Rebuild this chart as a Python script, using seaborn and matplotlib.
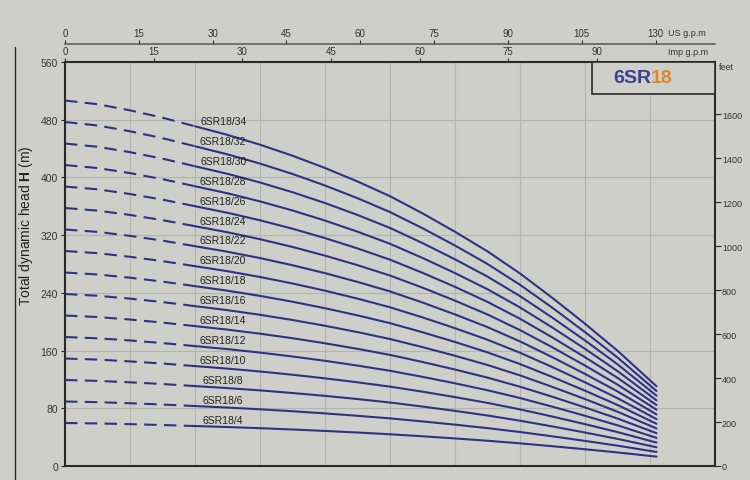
import numpy as np
import pandas as pd
import matplotlib
matplotlib.use("Agg")
import matplotlib.pyplot as plt
from matplotlib.patches import Rectangle
from matplotlib.lines import Line2D
import seaborn as sns

# ---------------- data ----------------
FLOW_M3H = [0, 1.5, 3, 4.5, 6, 7.5, 9, 10.5, 12, 13.5, 15, 16.5, 18, 19.5,
            21, 22.5, 24, 25.5, 27.3]

HEAD_4 = [59.6, 59.0, 58.0, 56.8, 55.4, 54.0, 52.4, 50.6, 48.6, 46.4, 44.0,
          41.2, 38.2, 35.0, 31.4, 27.4, 23.2, 18.8, 13.0]
HEAD_6 = [89.4, 88.5, 87.0, 85.2, 83.1, 81.0, 78.6, 75.9, 72.9, 69.6, 66.0,
          61.8, 57.3, 52.5, 47.1, 41.1, 34.8, 28.2, 19.5]
HEAD_8 = [119.2, 118.0, 116.0, 113.6, 110.8, 108.0, 104.8, 101.2, 97.2, 92.8,
          88.0, 82.4, 76.4, 70.0, 62.8, 54.8, 46.4, 37.6, 26.0]
HEAD_10 = [149.0, 147.5, 145.0, 142.0, 138.5, 135.0, 131.0, 126.5, 121.5,
           116.0, 110.0, 103.0, 95.5, 87.5, 78.5, 68.5, 58.0, 47.0, 32.5]
HEAD_12 = [178.8, 177.0, 174.0, 170.4, 166.2, 162.0, 157.2, 151.8, 145.8,
           139.2, 132.0, 123.6, 114.6, 105.0, 94.2, 82.2, 69.6, 56.4, 39.0]
HEAD_14 = [208.6, 206.5, 203.0, 198.8, 193.9, 189.0, 183.4, 177.1, 170.1,
           162.4, 154.0, 144.2, 133.7, 122.5, 109.9, 95.9, 81.2, 65.8, 45.5]
HEAD_16 = [238.4, 236.0, 232.0, 227.2, 221.6, 216.0, 209.6, 202.4, 194.4,
           185.6, 176.0, 164.8, 152.8, 140.0, 125.6, 109.6, 92.8, 75.2, 52.0]
HEAD_18 = [268.2, 265.5, 261.0, 255.6, 249.3, 243.0, 235.8, 227.7, 218.7,
           208.8, 198.0, 185.4, 171.9, 157.5, 141.3, 123.3, 104.4, 84.6, 58.5]
HEAD_20 = [298.0, 295.0, 290.0, 284.0, 277.0, 270.0, 262.0, 253.0, 243.0,
           232.0, 220.0, 206.0, 191.0, 175.0, 157.0, 137.0, 116.0, 94.0, 65.0]
HEAD_22 = [327.8, 324.5, 319.0, 312.4, 304.7, 297.0, 288.2, 278.3, 267.3,
           255.2, 242.0, 226.6, 210.1, 192.5, 172.7, 150.7, 127.6, 103.4, 71.5]
HEAD_24 = [357.6, 354.0, 348.0, 340.8, 332.4, 324.0, 314.4, 303.6, 291.6,
           278.4, 264.0, 247.2, 229.2, 210.0, 188.4, 164.4, 139.2, 112.8, 78.0]
HEAD_26 = [387.4, 383.5, 377.0, 369.2, 360.1, 351.0, 340.6, 328.9, 315.9,
           301.6, 286.0, 267.8, 248.3, 227.5, 204.1, 178.1, 150.8, 122.2, 84.5]
HEAD_28 = [417.2, 413.0, 406.0, 397.6, 387.8, 378.0, 366.8, 354.2, 340.2,
           324.8, 308.0, 288.4, 267.4, 245.0, 219.8, 191.8, 162.4, 131.6, 91.0]
HEAD_30 = [447.0, 442.5, 435.0, 426.0, 415.5, 405.0, 393.0, 379.5, 364.5,
           348.0, 330.0, 309.0, 286.5, 262.5, 235.5, 205.5, 174.0, 141.0, 97.5]
HEAD_32 = [476.8, 472.0, 464.0, 454.4, 443.2, 432.0, 419.2, 404.8, 388.8,
           371.2, 352.0, 329.6, 305.6, 280.0, 251.2, 219.2, 185.6, 150.4, 104.0]
HEAD_34 = [506.6, 501.5, 493.0, 482.8, 470.9, 459.0, 445.4, 430.1, 413.1,
           394.4, 374.0, 350.2, 324.7, 297.5, 266.9, 232.9, 197.2, 159.8, 110.5]

MODELS = ["6SR18/4", "6SR18/6", "6SR18/8", "6SR18/10", "6SR18/12", "6SR18/14",
          "6SR18/16", "6SR18/18", "6SR18/20", "6SR18/22", "6SR18/24", "6SR18/26",
          "6SR18/28", "6SR18/30", "6SR18/32", "6SR18/34"]
HEADS = [HEAD_4, HEAD_6, HEAD_8, HEAD_10, HEAD_12, HEAD_14, HEAD_16, HEAD_18,
         HEAD_20, HEAD_22, HEAD_24, HEAD_26, HEAD_28, HEAD_30, HEAD_32, HEAD_34]

DASHED_UNTIL = 6          # m3/h, curve drawn dashed below this flow
FLOW_GRID = [0, 3, 6, 9, 12, 15, 18, 21, 24, 27, 30]
Y_TICKS_M = [0, 80, 160, 240, 320, 400, 480, 560]
FEET_TICKS = [0, 200, 400, 600, 800, 1000, 1200, 1400, 1600]
IMP_GPM_TICKS = [0, 15, 30, 45, 60, 75, 90]
US_GPM_TICKS = [0, 15, 30, 45, 60, 75, 90, 105, 120]
US_GPM_LABELS = ["0", "15", "30", "45", "60", "75", "90", "105", "130"]

# ---------------- style ----------------
BG = "#cfcfca"
GRID = "#b4b4af"
CURVE = "#2d3384"
NAVY = "#3b3f8f"
ORANGE = "#e0862a"
INK = "#2a2a2a"

sns.set_theme(style="white")
plt.rcParams["font.family"] = ["Liberation Sans", "DejaVu Sans"]
plt.rcParams["mathtext.fontset"] = "custom"
plt.rcParams["mathtext.rm"] = "Liberation Sans"
plt.rcParams["mathtext.bf"] = "Liberation Sans:bold"

rows = []
for name, heads in zip(MODELS, HEADS):
    for q, h in zip(FLOW_M3H, heads):
        rows.append({"model": name, "flow": q, "head": h})
df = pd.DataFrame(rows)

fig = plt.figure(figsize=(7.5, 4.81), dpi=100, facecolor=BG)
ax = fig.add_axes([65 / 750, 14 / 481, 650 / 750, 404 / 481], facecolor=BG)

for name in MODELS:
    sub = df[df["model"] == name]
    dash = sub[sub["flow"] <= DASHED_UNTIL]
    solid = sub[sub["flow"] >= DASHED_UNTIL]
    sns.lineplot(data=dash, x="flow", y="head", ax=ax, color=CURVE, lw=1.5,
                 linestyle=(0, (6, 3.5)), estimator=None)
    sns.lineplot(data=solid, x="flow", y="head", ax=ax, color=CURVE, lw=1.5,
                 estimator=None)
    h6 = float(sub[sub["flow"] == DASHED_UNTIL]["head"].iloc[0])
    ax.annotate(name, xy=(7.3, h6), xytext=(0, 0.5), textcoords="offset points",
                ha="center", va="bottom", fontsize=7.5, color="#222222")

ax.set_xlim(0, 30)
ax.set_ylim(0, 560)
ax.set_xticks(FLOW_GRID)
ax.set_yticks(Y_TICKS_M)
ax.set_xlabel("")
ax.set_ylabel("")
ax.grid(True, color=GRID, lw=0.8)
ax.set_axisbelow(True)
ax.tick_params(axis="x", bottom=False, labelbottom=False, length=0)
ax.tick_params(axis="y", left=True, direction="out", length=3, width=0.8,
               labelsize=7.5, labelcolor="#333333", color=INK, pad=2)
for s in ax.spines.values():
    s.set_color(INK)
    s.set_linewidth(1.5)
    s.set_visible(True)

# Imp gpm on the top spine
M3H_PER_IMP = 0.272765
M3H_PER_US = 0.227125
imp_ax = ax.secondary_xaxis("top", functions=(lambda q: q / M3H_PER_IMP,
                                              lambda g: g * M3H_PER_IMP))
imp_ax.set_xticks(IMP_GPM_TICKS)
imp_ax.tick_params(direction="out", length=3, width=0.8, labelsize=7,
                   labelcolor="#333333", color=INK, pad=1)
imp_ax.spines["top"].set_visible(False)

# US gpm on an axis above
us_ax = ax.secondary_xaxis(1.045, functions=(lambda q: q / M3H_PER_US,
                                             lambda g: g * M3H_PER_US))
us_ax.set_xticks(US_GPM_TICKS)
us_ax.set_xticklabels(US_GPM_LABELS)
us_ax.tick_params(direction="out", length=3, width=0.8, labelsize=7,
                  labelcolor="#333333", color=INK, pad=1)
us_ax.spines["top"].set_color("#555555")
us_ax.spines["top"].set_linewidth(1.1)

# feet on the right
ft_ax = ax.secondary_yaxis("right", functions=(lambda m: m * 3.28084,
                                               lambda f: f / 3.28084))
ft_ax.set_yticks(FEET_TICKS)
ft_ax.tick_params(direction="out", length=4, width=0.8, labelsize=6.5,
                  labelcolor="#333333", color=INK, pad=1)
ft_ax.spines["right"].set_visible(False)

# model box
ax.add_patch(Rectangle((24.3, 516), 5.7, 44, facecolor=BG, edgecolor=INK,
                       lw=1.2, zorder=3))
t1 = ax.text(27.05, 538, "6SR", ha="right", va="center", fontsize=14,
             fontweight="bold", color=NAVY, zorder=4)
ax.annotate("18", xy=(1, 0), xycoords=t1, ha="left", va="bottom",
            fontsize=14, fontweight="bold", color=ORANGE, zorder=4)

# unit labels
fig.text(668 / 750, 1 - 34 / 481, "US g.p.m", fontsize=6.5, color="#333333",
         ha="left", va="center")
fig.text(668 / 750, 1 - 53 / 481, "Imp g.p.m", fontsize=6.5, color="#333333",
         ha="left", va="center")
fig.text(719 / 750, 1 - 68 / 481, "feet", fontsize=6.5, color="#333333",
         ha="left", va="center")

# y label
fig.text(26 / 750, 0.53, r"Total dynamic head $\mathbf{H}$ (m)", rotation=90,
         ha="center", va="center", fontsize=10, color="#222222")
fig.add_artist(Line2D([15 / 750, 15 / 750], [0, 1 - 48 / 481], color=INK,
                      lw=1.0, transform=fig.transFigure))

fig.savefig("out.png", dpi=100, facecolor=BG)
